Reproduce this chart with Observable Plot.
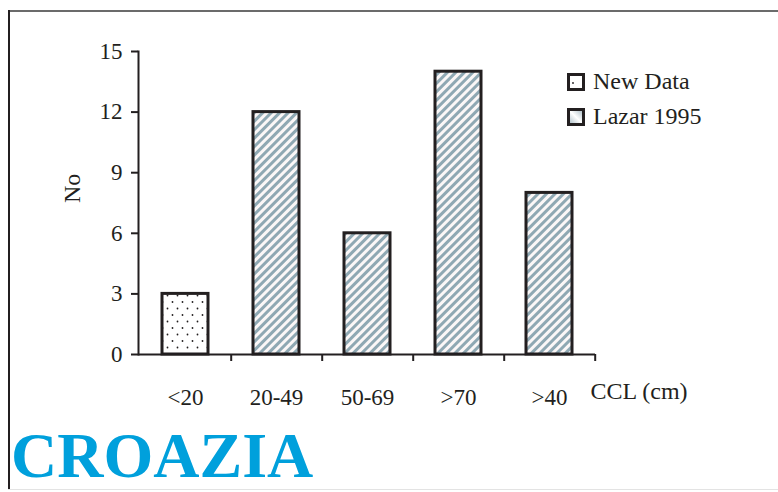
<!DOCTYPE html>
<html>
<head>
<meta charset="utf-8">
<script src="https://cdn.jsdelivr.net/npm/d3@7"></script>
<script src="https://cdn.jsdelivr.net/npm/@observablehq/plot@0.6"></script>
<style>
  html, body { margin: 0; padding: 0; background: #fff; }
  #wrap { position: relative; width: 778px; height: 492px; overflow: hidden; background: #fff; font-family: "Liberation Serif", serif; color: #231f20; }
  #topline { position: absolute; left: 8px; top: 10px; width: 770px; height: 2px; background: #6b6b6b; }
  #leftline { position: absolute; left: 8px; top: 10px; width: 2px; height: 480px; background: #231f20; }
  #bottomline { position: absolute; left: 8px; top: 489px; width: 770px; height: 1px; background: #e3e3e3; }
  #chart { position: absolute; left: 0; top: 0; }
  #legend { position: absolute; left: 567px; top: 64px; font-size: 24px; line-height: 35px; }
  .item { display: flex; align-items: center; height: 35px; }
  .item svg { margin-right: 8px; }
  #title { position: absolute; left: 11px; top: 424px; font-size: 64px; line-height: 64px; font-weight: bold; color: #00a0dc; font-family: "Liberation Serif", serif; }
</style>
</head>
<body>
<svg width="0" height="0" style="position:absolute">
  <defs>
    <pattern id="dots" width="10" height="13" patternUnits="userSpaceOnUse">
      <rect width="10" height="13" fill="#fff"/>
      <circle cx="2.5" cy="3" r="0.9" fill="#231f20"/>
      <circle cx="7.5" cy="9.5" r="0.9" fill="#231f20"/>
    </pattern>
    <pattern id="stripes" width="6" height="6" patternUnits="userSpaceOnUse" patternTransform="rotate(45)">
      <rect width="6" height="6" fill="#fbf7f7"/>
      <rect width="3" height="6" fill="#8fa8b3"/>
    </pattern>
    <linearGradient id="swgrad" x1="0" y1="1" x2="1" y2="0">
      <stop offset="0" stop-color="#9fb3bd"/>
      <stop offset="0.5" stop-color="#ffffff"/>
      <stop offset="1" stop-color="#9fb3bd"/>
    </linearGradient>
  </defs>
</svg>
<div id="wrap">
  <div id="topline"></div>
  <div id="leftline"></div>
  <div id="bottomline"></div>
  <div id="chart"></div>
  <div id="legend"></div>
  <div id="title">CROAZIA</div>
</div>
<script>
const categories = ["<20", "20-49", "50-69", ">70", ">40"];
const counts = [3, 12, 6, 14, 8];
const sources = ["New Data", "Lazar 1995", "Lazar 1995", "Lazar 1995", "Lazar 1995"];
const yTicks = [0, 3, 6, 9, 12, 15];
const legendLabels = ["New Data", "Lazar 1995"];
const yLabel = "No";
const xLabel = "CCL (cm)";

const data = categories.map((c, i) => ({cat: c, n: counts[i], source: sources[i]}));
const ink = "#231f20";

const plot = Plot.plot({
  width: 778,
  height: 420,
  marginLeft: 138,
  marginRight: 183,
  marginTop: 51,
  marginBottom: 66,
  style: {fontFamily: "Liberation Serif, serif", fontSize: "23px", color: ink, background: "transparent", overflow: "visible"},
  x: {domain: categories, paddingInner: 0.5, paddingOuter: 0.25, axis: null},
  y: {domain: [0, 15], axis: null},
  marks: [
    Plot.barY(data.filter(d => d.source === legendLabels[0]), {x: "cat", y: "n", fill: "url(#dots)", stroke: ink, strokeWidth: 3}),
    Plot.barY(data.filter(d => d.source === legendLabels[1]), {x: "cat", y: "n", fill: "url(#stripes)", stroke: ink, strokeWidth: 3}),
    Plot.frame({anchor: "left", stroke: ink, strokeWidth: 2}),
    Plot.ruleY([0], {stroke: ink, strokeWidth: 2}),
    Plot.axisY({ticks: yTicks, tickSize: 7, tickPadding: 9, strokeWidth: 2, stroke: ink, fill: ink, label: null, fontSize: 23}),
    Plot.axisX({tickSize: 7, tickFormat: () => "", dx: 45.7, strokeWidth: 2, stroke: ink, label: null}),
    Plot.axisX({tickSize: 0, tickPadding: 34, fill: ink, label: null, fontSize: 23}),
    Plot.text([yLabel], {frameAnchor: "left", dx: -66, rotate: -90, fontSize: 24, fill: ink}),
    Plot.text([xLabel], {frameAnchor: "bottom-right", dx: -5, dy: 44, textAnchor: "start", fontSize: 24, fill: ink})
  ]
});
document.getElementById("chart").appendChild(plot);

const legend = document.getElementById("legend");
legendLabels.forEach((lab, i) => {
  const item = document.createElement("div");
  item.className = "item";
  const fill = i === 0 ? "#fff" : "url(#swgrad)";
  const dot = i === 0 ? `<circle cx="6" cy="10" r="0.9" fill="${ink}"/>` : "";
  item.innerHTML = `<svg width="18" height="18"><rect x="1.5" y="1.5" width="15" height="15" fill="${fill}" stroke="${ink}" stroke-width="3"/>${dot}</svg><span>${lab}</span>`;
  legend.appendChild(item);
});
</script>
</body>
</html>
